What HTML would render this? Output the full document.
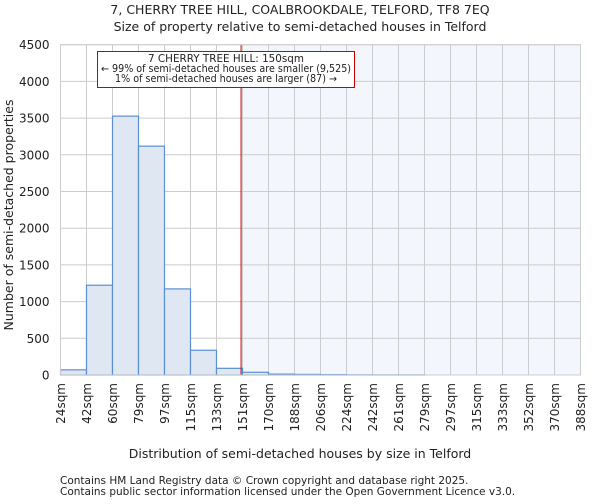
<!DOCTYPE html>
<html><head><meta charset="utf-8"><style>
body{margin:0;background:#fff;font-family:"DejaVu Sans","Liberation Sans",sans-serif;}
svg text{font-family:"DejaVu Sans","Liberation Sans",sans-serif;fill:#222;}
</style></head><body>
<svg id="chart" width="600" height="500">
<text x="300" y="14" font-size="12.5" text-anchor="middle">7, CHERRY TREE HILL, COALBROOKDALE, TELFORD, TF8 7EQ</text>
<text x="300" y="31" font-size="12.5" text-anchor="middle">Size of property relative to semi-detached houses in Telford</text>
<g id="plot"></g>
<text x="300" y="458" font-size="12.5" text-anchor="middle">Distribution of semi-detached houses by size in Telford</text>
<text transform="translate(13,215) rotate(-90)" font-size="12.5" text-anchor="middle">Number of semi-detached properties</text>
<text x="60" y="484" font-size="10.5">Contains HM Land Registry data © Crown copyright and database right 2025.</text>
<text x="60" y="495" font-size="10.5">Contains public sector information licensed under the Open Government Licence v3.0.</text>
</svg>
<script>
const binLabels=["24sqm","42sqm","60sqm","79sqm","97sqm","115sqm","133sqm","151sqm","170sqm","188sqm","206sqm","224sqm","242sqm","261sqm","279sqm","297sqm","315sqm","333sqm","352sqm","370sqm","388sqm"];
const counts=[70,1223,3527,3118,1173,337,91,37,12,8,5,2,1,1,0,0,0,0,0,0];
const yTicks=[0,500,1000,1500,2000,2500,3000,3500,4000,4500];
const propertySize=150;
const NS="http://www.w3.org/2000/svg";
const L=60.5,R=580.5,T=44.7,B=375,yMax=4500;
const bw=(R-L)/counts.length;
function y(v){return B-(v/yMax)*(B-T);}
function xi(i){return L+i*bw;}
function xSize(s){const e=binLabels.map(t=>parseFloat(t));for(let i=0;i<e.length-1;i++){if(s<=e[i+1])return xi(i)+(s-e[i])/(e[i+1]-e[i])*bw;}return R;}
const g=document.getElementById('plot');
function mk(t,a){const e=document.createElementNS(NS,t);for(const k in a)e.setAttribute(k,a[k]);g.appendChild(e);return e;}
const xm=xSize(propertySize);
let sh=mk('rect',{x:xm,y:T,width:R-xm,height:B-T,fill:'#f3f6fc'});


yTicks.forEach(v=>{let l=mk('line',{x1:L,x2:R,y1:y(v),y2:y(v),stroke:'#cccccc','stroke-width':1});


let t=mk('text',{x:L-11,y:y(v)+4.5,'font-size':'12','text-anchor':'end'});t.textContent=v;

});
binLabels.forEach((s,i)=>{let l=mk('line',{x1:xi(i),x2:xi(i),y1:T,y2:B,stroke:'#cccccc','stroke-width':1});


let t=mk('text',{transform:`translate(${xi(i)+4.5},${B+8}) rotate(-90)`,'font-size':'12','text-anchor':'end'});t.textContent=s;

});
counts.forEach((c,i)=>{let r=mk('rect',{x:xi(i),y:y(c),width:bw,height:B-y(c),fill:'#dfe7f3',stroke:'#5b8fd6','stroke-width':1.2});

});
let rl=mk('line',{x1:xm,x2:xm,y1:T,y2:B,stroke:'#cc0000','stroke-width':1});


let bx=mk('rect',{x:97.5,y:51.5,width:257,height:36,fill:'#fff',stroke:'#cc0000','stroke-width':1});


["7 CHERRY TREE HILL: 150sqm","← 99% of semi-detached houses are smaller (9,525)","1% of semi-detached houses are larger (87) →"].forEach((s,i)=>{let t=mk('text',{x:226,y:62+i*10,'font-size':'10.3','text-anchor':'middle',textLength:i==0?'156':(i==1?'250':'222'),lengthAdjust:'spacingAndGlyphs'});t.textContent=s;

});
let ax=mk('rect',{x:L,y:T,width:R-L,height:B-T,fill:'none',stroke:'#cccccc'});


</script>
</body></html>
